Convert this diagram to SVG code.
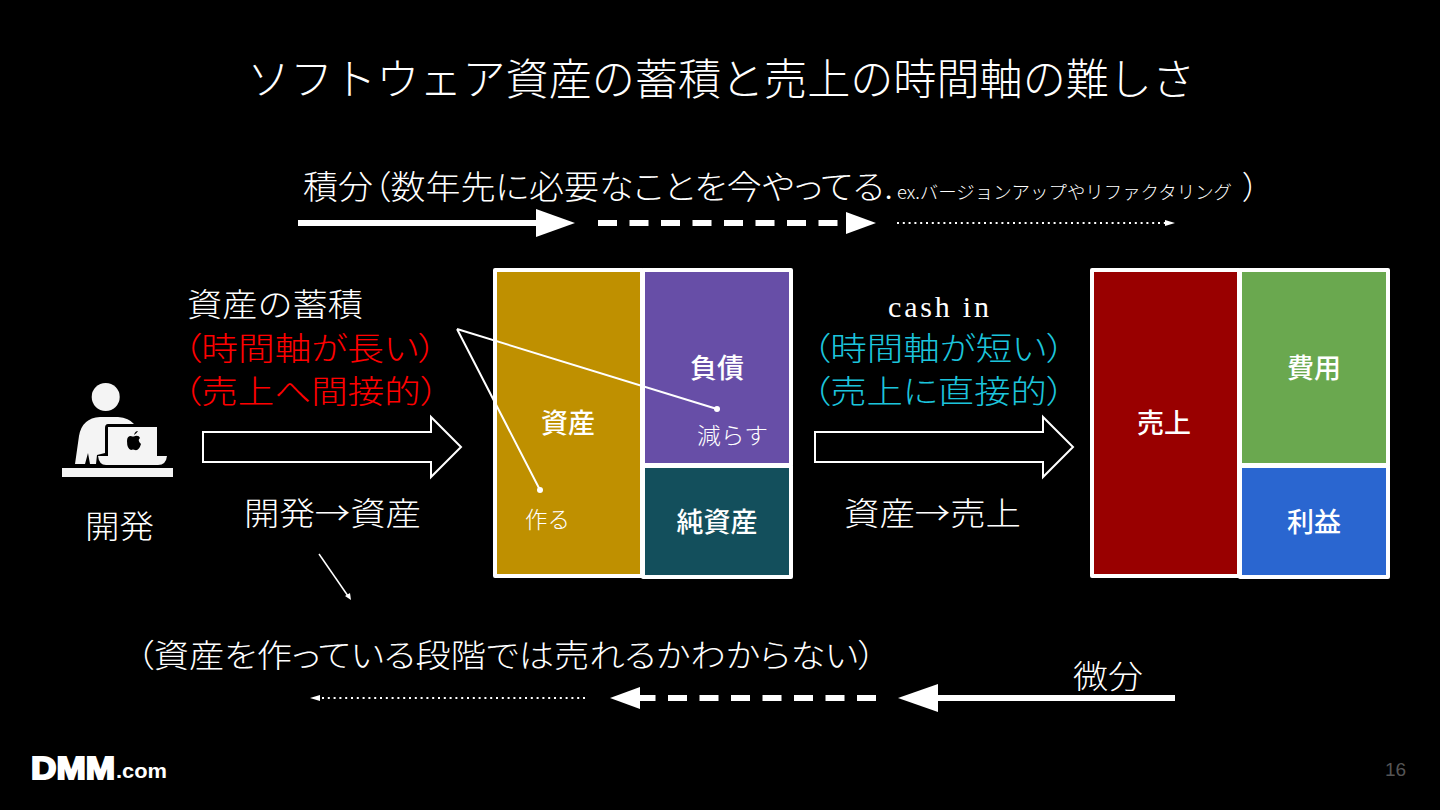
<svg xmlns="http://www.w3.org/2000/svg" width="1440" height="810" viewBox="0 0 1440 810">
<style>
text{font-family:"Noto Sans CJK JP","Liberation Serif",serif;font-weight:300;fill:#fff}
.m{font-size:32px}
.p{font-feature-settings:"palt"}
.b{font-family:"Noto Sans CJK JP","Liberation Sans",sans-serif;font-weight:500;font-size:27px;text-anchor:middle}
.box{stroke:#fff;stroke-width:4;stroke-linejoin:round}
.ar{fill:#000;stroke:#fff;stroke-width:2}
.ln{stroke:#fff;fill:none}
.dash{stroke-width:6;stroke-dasharray:19 12.500}
.dot{stroke-width:2;stroke-dasharray:2 3.800}
</style>
<rect width="1440" height="810" fill="#000"/>
<text id="title" x="247" y="95" font-size="43" textLength="948" lengthAdjust="spacingAndGlyphs">ソフトウェア資産の蓄積と売上の時間軸の難しさ</text>
<g id="integral-label"><text class="p" x="303" y="199" font-size="33" textLength="590" lengthAdjust="spacingAndGlyphs">積分（数年先に必要なことを今やってる.</text><text x="897" y="199" font-size="18" textLength="335" lengthAdjust="spacingAndGlyphs">ex.バージョンアップやリファクタリング</text><text class="p" x="1243" y="199" font-size="32">）</text></g>
<g id="connectors">
<path class="ln" stroke-width="6" d="M298 223H540"/><path fill="#fff" d="M536 209L575 223L536 237Z"/>
<path class="ln dash" d="M598 223H848"/><path fill="#fff" d="M846 212L876 223L846 234Z"/>
<path class="ln dot" d="M897 223H1166"/><path fill="#fff" d="M1165 220L1175 223L1165 226Z"/>
<path class="ln" stroke-width="6" d="M1175 698H934"/><path fill="#fff" d="M938 684L898 698L938 712Z"/>
<path class="ln dash" d="M876 698H636"/><path fill="#fff" d="M640 687L610 698L640 709Z"/>
<path class="ln dot" d="M585 698H318"/><path fill="#fff" d="M320 695L310 698L320 701Z"/>
<path class="ln" stroke-width="1.500" d="M319 554L348 596"/><path fill="#fff" d="M345 596L351 600L350 593Z"/>
</g>
<g id="dev">
<circle cx="105.700" cy="397" r="14" fill="#f4f4f4"/>
<path fill="#f4f4f4" d="M75 464L79 436Q82 418 100 417L118 417Q129 418 134 424L108 424Q105 424 105 428L105 453L97 455L96 464L90 464L88 453L85 464Z"/>
<path fill="#f4f4f4" d="M108 427H157V458H108Z"/>
<path fill="#f4f4f4" d="M98 456H167Q166 465 158 465H106Q99 465 98 456Z"/>
<path fill="#000" d="M134 435Q137 433 138 431Q135 431 134 435ZM127 441Q127 436 131 436Q133 437 135 436Q139 435 140 438Q137 440 141 444Q139 451 135 450Q133 449 131 450Q127 449 127 441Z"/>
<rect x="62" y="468" width="111" height="9" fill="#f4f4f4"/>
<text x="85" y="538" font-size="32" textLength="69" lengthAdjust="spacingAndGlyphs">開発</text>
</g>
<g id="dev-labels">
<text x="187" y="316" class="m" textLength="176" lengthAdjust="spacingAndGlyphs">資産の蓄積</text>
<text x="183" y="360" class="m p" style="fill:#f00" textLength="254" lengthAdjust="spacingAndGlyphs">（時間軸が長い）</text>
<text x="183" y="403" class="m p" style="fill:#f00" textLength="256" lengthAdjust="spacingAndGlyphs">（売上へ間接的）</text>
<text x="244" y="525" class="m" textLength="177" lengthAdjust="spacingAndGlyphs">開発→資産</text>
</g>
<polygon id="arrow-dev" class="ar" points="203,432 431,432 431,417 461,447 431,477 431,462 203,462"/>
<g id="bs">
<rect class="box" x="495" y="270" width="147" height="306" fill="#bf9000"/>
<rect class="box" x="643" y="270" width="148" height="195" fill="#674ea7"/>
<rect class="box" x="643" y="466" width="148" height="111" fill="#134f5c"/>
<text class="b" x="568" y="433">資産</text><text class="b" x="717" y="378">負債</text><text class="b" x="717" y="532">純資産</text>
<text x="525" y="528" font-size="23" textLength="45" lengthAdjust="spacingAndGlyphs">作る</text>
<text x="697" y="444" font-size="23" textLength="71" lengthAdjust="spacingAndGlyphs">減らす</text>
</g>
<g id="pointers">
<path class="ln" stroke-width="2" d="M457 329L540 490M457 329L717 409"/>
<circle cx="540" cy="490" r="3" fill="#fff"/><circle cx="717" cy="409" r="3" fill="#fff"/>
</g>
<g id="cash-labels">
<text x="888" y="317" font-size="30" style="font-family:'Liberation Serif',serif;font-weight:400" textLength="101">cash in</text>
<text x="812" y="360" class="m p" style="fill:#1cc4dc" textLength="253" lengthAdjust="spacingAndGlyphs">（時間軸が短い）</text>
<text x="812" y="403" class="m p" style="fill:#1cc4dc" textLength="253" lengthAdjust="spacingAndGlyphs">（売上に直接的）</text>
<text x="844" y="525" class="m" textLength="177" lengthAdjust="spacingAndGlyphs">資産→売上</text>
</g>
<polygon id="arrow-sales" class="ar" points="815,432 1043,432 1043,417 1073,447 1043,477 1043,462 815,462"/>
<g id="pl">
<rect class="box" x="1092" y="270" width="147" height="306" fill="#990000"/>
<rect class="box" x="1240" y="270" width="148" height="195" fill="#6aa84f"/>
<rect class="box" x="1240" y="466" width="148" height="111" fill="#2a66d0"/>
<text class="b" x="1164" y="433">売上</text><text class="b" x="1314" y="378">費用</text><text class="b" x="1314" y="532">利益</text>
</g>
<text id="note" class="p" x="136" y="667" font-size="32" textLength="740" lengthAdjust="spacingAndGlyphs">（資産を作っている段階では売れるかわからない）</text>
<text id="diff" x="1073" y="688" font-size="32" textLength="70" lengthAdjust="spacingAndGlyphs">微分</text>
<g id="logo"><text x="31" y="779" style="font-family:'Liberation Sans',sans-serif;font-weight:700;font-size:32px" stroke="#fff" stroke-width="2" textLength="84" lengthAdjust="spacingAndGlyphs">DMM</text><text x="116" y="778" style="font-family:'Liberation Sans',sans-serif;font-weight:700;font-size:20px" textLength="51" lengthAdjust="spacingAndGlyphs">.com</text></g>
<text id="page" x="1385" y="776" style="font-family:'Liberation Sans',sans-serif;font-weight:400;font-size:19px;fill:#555">16</text>
</svg>
